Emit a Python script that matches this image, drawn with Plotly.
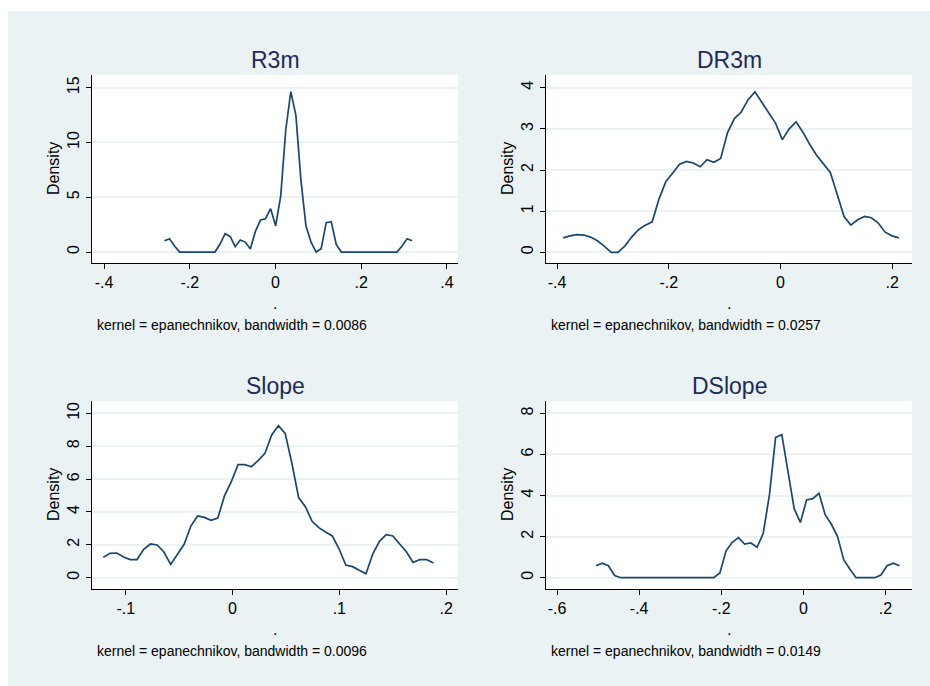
import numpy as np
import plotly.graph_objects as go

W, H = 930, 686

# ---------------- data ----------------
titles = ["R3m", "DR3m", "Slope", "DSlope"]
notes = ["kernel = epanechnikov, bandwidth = 0.0086",
         "kernel = epanechnikov, bandwidth = 0.0257",
         "kernel = epanechnikov, bandwidth = 0.0096",
         "kernel = epanechnikov, bandwidth = 0.0149"]

# evaluation grid ends (Stata kdensity: 50 evenly spaced points)
r3m_x_range = (-0.259, 0.319)
dr3m_x_range = (-0.389, 0.212)
slope_x_range = (-0.121, 0.188)
dslope_x_range = (-0.505, 0.234)

r3m_density = [1.03, 1.22, 0.55, 0, 0, 0, 0, 0, 0, 0,
               0, 0.73, 1.67, 1.43, 0.49, 1.10, 0.91, 0.27, 1.89, 2.92,
               3.04, 3.96, 2.40, 5.11, 11.14, 14.64, 12.5, 6.57, 2.37, 0.91,
               0, 0.30, 2.68, 2.77, 0.67, 0, 0, 0, 0, 0,
               0, 0, 0, 0, 0, 0, 0, 0.55, 1.22, 1.03]

dr3m_density = [0.35, 0.40, 0.43, 0.42, 0.37, 0.28, 0.15, 0.0, 0.0, 0.15,
                0.37, 0.55, 0.66, 0.74, 1.30, 1.72, 1.93, 2.14, 2.21, 2.17,
                2.08, 2.25, 2.19, 2.28, 2.91, 3.25, 3.41, 3.71, 3.90, 3.64,
                3.37, 3.14, 2.74, 3.00, 3.17, 2.92, 2.62, 2.36, 2.15, 1.94,
                1.41, 0.87, 0.66, 0.79, 0.87, 0.84, 0.71, 0.49, 0.40, 0.35]

slope_density = [1.24, 1.48, 1.50, 1.26, 1.10, 1.10, 1.72, 2.05, 1.99, 1.56,
                 0.81, 1.40, 2.03, 3.14, 3.75, 3.67, 3.49, 3.63, 4.99, 5.84,
                 6.88, 6.88, 6.75, 7.14, 7.57, 8.68, 9.25, 8.78, 6.96, 4.87,
                 4.32, 3.43, 3.04, 2.78, 2.54, 1.76, 0.77, 0.67, 0.47, 0.24,
                 1.44, 2.21, 2.62, 2.54, 2.05, 1.58, 0.93, 1.10, 1.10, 0.89]

dslope_density = [0.58, 0.71, 0.58, 0.11, 0, 0, 0, 0, 0, 0,
                  0, 0, 0, 0, 0, 0, 0, 0, 0, 0,
                  0.23, 1.31, 1.72, 1.95, 1.64, 1.69, 1.48, 2.16, 4.03, 6.83,
                  6.96, 5.16, 3.36, 2.69, 3.78, 3.85, 4.11, 3.07, 2.60, 2.00,
                  0.88, 0.41, 0, 0, 0, 0, 0.13, 0.58, 0.71, 0.58]

x_tickvals = [[-0.4, -0.2, 0, 0.2, 0.4], [-0.4, -0.2, 0, 0.2],
              [-0.1, 0, 0.1, 0.2], [-0.6, -0.4, -0.2, 0, 0.2]]
x_ticktext = [["-.4", "-.2", "0", ".2", ".4"], ["-.4", "-.2", "0", ".2"],
              ["-.1", "0", ".1", ".2"], ["-.6", "-.4", "-.2", "0", ".2"]]
y_tickvals = [[0, 5, 10, 15], [0, 1, 2, 3, 4], [0, 2, 4, 6, 8, 10], [0, 2, 4, 6, 8]]

# ---------------- layout geometry (window pixels) ----------------
x_ranges = [[-0.428, 0.426], [-0.4197, 0.2356], [-0.1316, 0.2111], [-0.6268, 0.2645]]
y_ranges = [[-1.0, 16.16], [-0.26, 4.31], [-0.69, 10.75], [-0.55, 8.6]]
boxes = [(92, 458, 75, 263), (546, 912, 75, 263), (92, 458, 401, 589), (546, 912, 401, 589)]

BG = "#EAF2F3"
LINE = "#1a476f"
TITLE_C = "#1e2b57"
FONT = "Liberation Sans, Arial, sans-serif"

series = [(r3m_x_range, r3m_density), (dr3m_x_range, dr3m_density),
          (slope_x_range, slope_density), (dslope_x_range, dslope_density)]

fig = go.Figure()


def px_x(p):
    return p / W


def px_y(p):
    return 1 - p / H


# white strips at top and left (outside the light graph region)
shapes = [dict(type="rect", xref="paper", yref="paper", x0=0, x1=1.0,
               y0=px_y(11), y1=1.0, fillcolor="white", line=dict(width=0), layer="below"),
          dict(type="rect", xref="paper", yref="paper", x0=0, x1=px_x(8),
               y0=0, y1=1.0, fillcolor="white", line=dict(width=0), layer="below")]
annotations = []
layout_axes = {}

for k in range(4):
    (lo, hi), dens = series[k]
    xs = np.linspace(lo, hi, len(dens))
    ax = "" if k == 0 else str(k + 1)
    fig.add_trace(go.Scatter(x=xs, y=dens, mode="lines", xaxis="x" + ax, yaxis="y" + ax,
                             line=dict(color=LINE, width=1.7), showlegend=False,
                             hoverinfo="x+y"))
    x0, x1, y0, y1 = boxes[k]
    layout_axes["xaxis" + ax] = dict(
        domain=[px_x(x0), px_x(x1)], range=x_ranges[k], anchor="y" + ax,
        tickvals=x_tickvals[k], ticktext=x_ticktext[k], ticks="outside", ticklen=5,
        tickwidth=1, tickcolor="black", showgrid=False, zeroline=False,
        showline=True, linecolor="black", linewidth=1.3,
        tickfont=dict(size=16, color="black", family=FONT), fixedrange=True)
    layout_axes["yaxis" + ax] = dict(
        domain=[px_y(y1), px_y(y0)], range=y_ranges[k], anchor="x" + ax,
        tickvals=y_tickvals[k], ticks="outside", ticklen=5, tickwidth=1,
        tickcolor="black", tickangle=-90, showgrid=True, gridcolor=BG, gridwidth=1.8,
        zeroline=False, showline=True, linecolor="black", linewidth=1.3,
        tickfont=dict(size=16, color="black", family=FONT), fixedrange=True)
    cx = (x0 + x1) / 2
    annotations.append(dict(text=titles[k], xref="paper", yref="paper",
                            x=px_x(cx), y=px_y(y0 - 15), xanchor="center", yanchor="middle",
                            showarrow=False, font=dict(size=23, color=TITLE_C, family=FONT)))
    annotations.append(dict(text="Density", xref="paper", yref="paper",
                            x=px_x(x0 - 39), y=px_y((y0 + y1) / 2), xanchor="center",
                            yanchor="middle", textangle=-90, showarrow=False,
                            font=dict(size=16, color="black", family=FONT)))
    annotations.append(dict(text=".", xref="paper", yref="paper",
                            x=px_x(cx), y=px_y(y1 + 40), xanchor="center", yanchor="middle",
                            showarrow=False, font=dict(size=16, color="black", family=FONT)))
    annotations.append(dict(text=notes[k], xref="paper", yref="paper",
                            x=px_x(x0 + 3), y=px_y(y1 + 62), xanchor="left", yanchor="middle",
                            showarrow=False, font=dict(size=14, color="black", family=FONT)))

fig.update_layout(width=W, height=H, margin=dict(l=0, r=0, t=0, b=0),
                  paper_bgcolor=BG, plot_bgcolor="white",
                  shapes=shapes, annotations=annotations, font=dict(family=FONT),
                  **layout_axes)

fig.write_html("out.html", config={"displayModeBar": False},
               post_script="document.body.style.margin='0';document.body.style.overflow='hidden';")
